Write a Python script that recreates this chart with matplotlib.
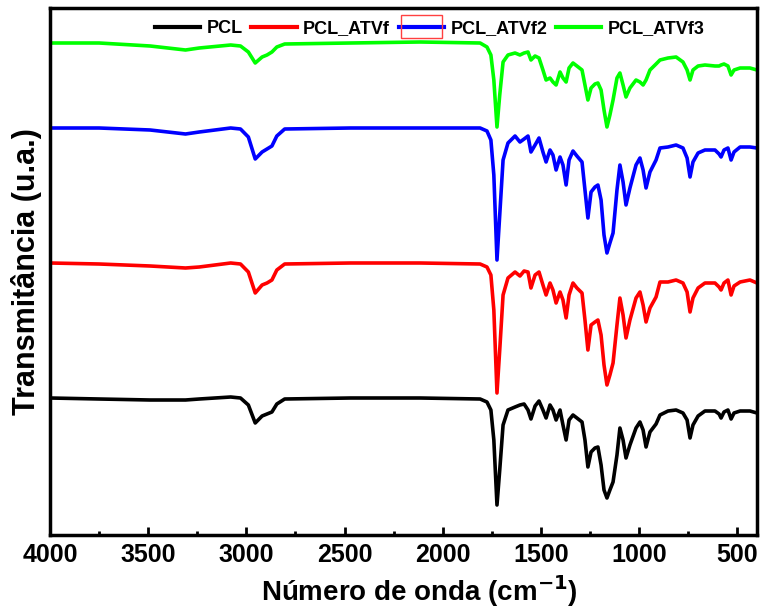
import matplotlib
matplotlib.use("Agg")
import matplotlib.pyplot as plt
from matplotlib.patches import Rectangle
from matplotlib.ticker import MultipleLocator

plt.rcParams["font.family"] = ["Liberation Sans", "DejaVu Sans"]
plt.rcParams["font.weight"] = "bold"

# wavenumber (cm-1) shared by the four spectra
wavenumber = [
    4000, 3750, 3490, 3310, 3240, 3080, 3030, 2990, 2955, 2920,
    2895, 2870, 2845, 2805, 2470, 2115, 1810, 1775, 1755, 1740,
    1724, 1710, 1693, 1668, 1632, 1607, 1586, 1566, 1551, 1530,
    1510, 1490, 1474, 1454, 1439, 1423, 1403, 1388, 1372, 1357,
    1337, 1317, 1291, 1276, 1261, 1245, 1225, 1210, 1194, 1179,
    1164, 1149, 1133, 1113, 1098, 1082, 1067, 1047, 1016, 996,
    980, 965, 945, 914, 894, 853, 812, 777, 756, 741,
    726, 700, 665, 614, 593, 583, 568, 548, 532, 517,
    486, 436, 400,
]

# transmittance (u.a.), already stacked as plotted
pcl = [
    1.37, 1.36, 1.35, 1.35, 1.36, 1.38, 1.37, 1.30, 1.12, 1.19,
    1.21, 1.23, 1.31, 1.36, 1.37, 1.37, 1.36, 1.33, 1.25, 0.95,
    0.30, 0.65, 1.10, 1.25, 1.28, 1.30, 1.31, 1.25, 1.16, 1.29,
    1.34, 1.25, 1.17, 1.30, 1.25, 1.15, 1.25, 1.10, 0.95, 1.15,
    1.20, 1.17, 1.13, 0.95, 0.68, 0.83, 0.87, 0.88, 0.70, 0.45,
    0.37, 0.45, 0.53, 0.80, 1.07, 0.95, 0.77, 0.90, 1.07, 1.13,
    1.05, 0.88, 1.03, 1.11, 1.20, 1.24, 1.25, 1.22, 1.15, 0.97,
    1.10, 1.19, 1.24, 1.24, 1.21, 1.17, 1.23, 1.25, 1.16, 1.22,
    1.24, 1.24, 1.22,
]
pcl_atvf = [
    2.72, 2.71, 2.69, 2.67, 2.68, 2.72, 2.71, 2.63, 2.42, 2.50,
    2.52, 2.55, 2.65, 2.71, 2.72, 2.72, 2.71, 2.68, 2.60, 2.25,
    1.42, 1.85, 2.40, 2.57, 2.63, 2.59, 2.64, 2.63, 2.47, 2.60,
    2.63, 2.50, 2.40, 2.52, 2.45, 2.32, 2.43, 2.35, 2.17, 2.40,
    2.52, 2.47, 2.42, 2.15, 1.85, 2.10, 2.13, 2.15, 2.00, 1.70,
    1.50, 1.60, 1.72, 2.10, 2.37, 2.20, 1.97, 2.15, 2.37, 2.43,
    2.30, 2.13, 2.27, 2.38, 2.53, 2.53, 2.55, 2.52, 2.43, 2.23,
    2.37, 2.47, 2.52, 2.52, 2.48, 2.45, 2.52, 2.55, 2.40, 2.49,
    2.53, 2.55, 2.52,
]
pcl_atvf2 = [
    4.07, 4.07, 4.05, 4.01, 4.03, 4.07, 4.06, 3.98, 3.76, 3.83,
    3.86, 3.89, 3.99, 4.06, 4.07, 4.07, 4.07, 4.04, 3.95, 3.60,
    2.75, 3.20, 3.75, 3.92, 3.99, 3.93, 3.96, 3.99, 3.83, 3.90,
    3.97, 3.83, 3.73, 3.85, 3.80, 3.65, 3.78, 3.70, 3.50, 3.75,
    3.84, 3.79, 3.73, 3.45, 3.17, 3.43, 3.48, 3.50, 3.35, 3.00,
    2.82, 2.92, 3.02, 3.45, 3.70, 3.53, 3.30, 3.47, 3.70, 3.77,
    3.65, 3.47, 3.63, 3.75, 3.87, 3.88, 3.90, 3.87, 3.77, 3.58,
    3.73, 3.82, 3.85, 3.85, 3.81, 3.78, 3.85, 3.87, 3.75, 3.83,
    3.88, 3.88, 3.87,
]
pcl_atvf3 = [
    4.92, 4.92, 4.89, 4.85, 4.87, 4.90, 4.89, 4.83, 4.72, 4.78,
    4.80, 4.83, 4.88, 4.91, 4.92, 4.93, 4.92, 4.88, 4.80, 4.55,
    4.08, 4.40, 4.73, 4.80, 4.82, 4.80, 4.82, 4.83, 4.75, 4.79,
    4.77, 4.65, 4.55, 4.57, 4.53, 4.50, 4.63, 4.57, 4.53, 4.67,
    4.72, 4.69, 4.65, 4.50, 4.35, 4.47, 4.51, 4.52, 4.45, 4.25,
    4.08, 4.20, 4.35, 4.57, 4.62, 4.50, 4.38, 4.47, 4.55, 4.53,
    4.50, 4.55, 4.65, 4.71, 4.75, 4.77, 4.78, 4.73, 4.65, 4.55,
    4.65, 4.69, 4.70, 4.69, 4.69, 4.70, 4.71, 4.69, 4.60, 4.65,
    4.67, 4.67, 4.65,
]

labels = ["PCL", "PCL_ATVf", "PCL_ATVf2", "PCL_ATVf3"]
colors = ["#000000", "#ff0000", "#0000ff", "#00ff00"]
series = [pcl, pcl_atvf, pcl_atvf2, pcl_atvf3]

fig = plt.figure(figsize=(7.61, 6.10), dpi=100)
ax = fig.add_axes([50 / 761, 75 / 610, 707 / 761, 527 / 610])

for y, c, lab in zip(series, colors, labels):
    ax.plot(wavenumber, y, color=c, lw=2.6, label=lab, solid_joinstyle="round")

ax.set_xlim(4000, 400)
ax.set_ylim(0, 5.27)
ax.xaxis.set_major_locator(MultipleLocator(500))
ax.xaxis.set_minor_locator(MultipleLocator(250))
ax.set_yticks([])
ax.tick_params(axis="x", which="major", direction="in", length=6, width=2, labelsize=18, pad=6)
ax.tick_params(axis="x", which="minor", direction="in", length=3, width=2)
for lab in ax.get_xticklabels():
    lab.set_fontweight("bold")
for sp in ax.spines.values():
    sp.set_linewidth(2.5)

ax.set_xlabel("Número de onda (cm$^{-1}$)", fontsize=20, fontweight="bold")
ax.xaxis.set_label_coords(0.523, -0.072)
ax.set_ylabel("Transmitância (u.a.)", fontsize=22, fontweight="bold", labelpad=6)

leg = ax.legend(loc="upper center", bbox_to_anchor=(0.537, 0.994), ncol=4, frameon=False,
                fontsize=13, handlelength=2.5, handletextpad=0.35, columnspacing=0.5,
                borderaxespad=0.1)
for t in leg.get_texts():
    t.set_fontweight("bold")
for h in leg.get_lines():
    h.set_linewidth(3)

# stray red box around the PCL_ATVf2 key in the original
fig.canvas.draw()
hb = leg.get_lines()[2].get_window_extent()
W, H = fig.bbox.width, fig.bbox.height
cy = (hb.y0 + hb.y1) / 2
fig.patches.append(Rectangle(((hb.x0 + 2) / W, (cy - 11.5) / H), (hb.width - 4) / W, 23 / H,
                             transform=fig.transFigure, fill=False,
                             edgecolor="#ff4040", lw=1))

fig.savefig("out.png", dpi=100)
